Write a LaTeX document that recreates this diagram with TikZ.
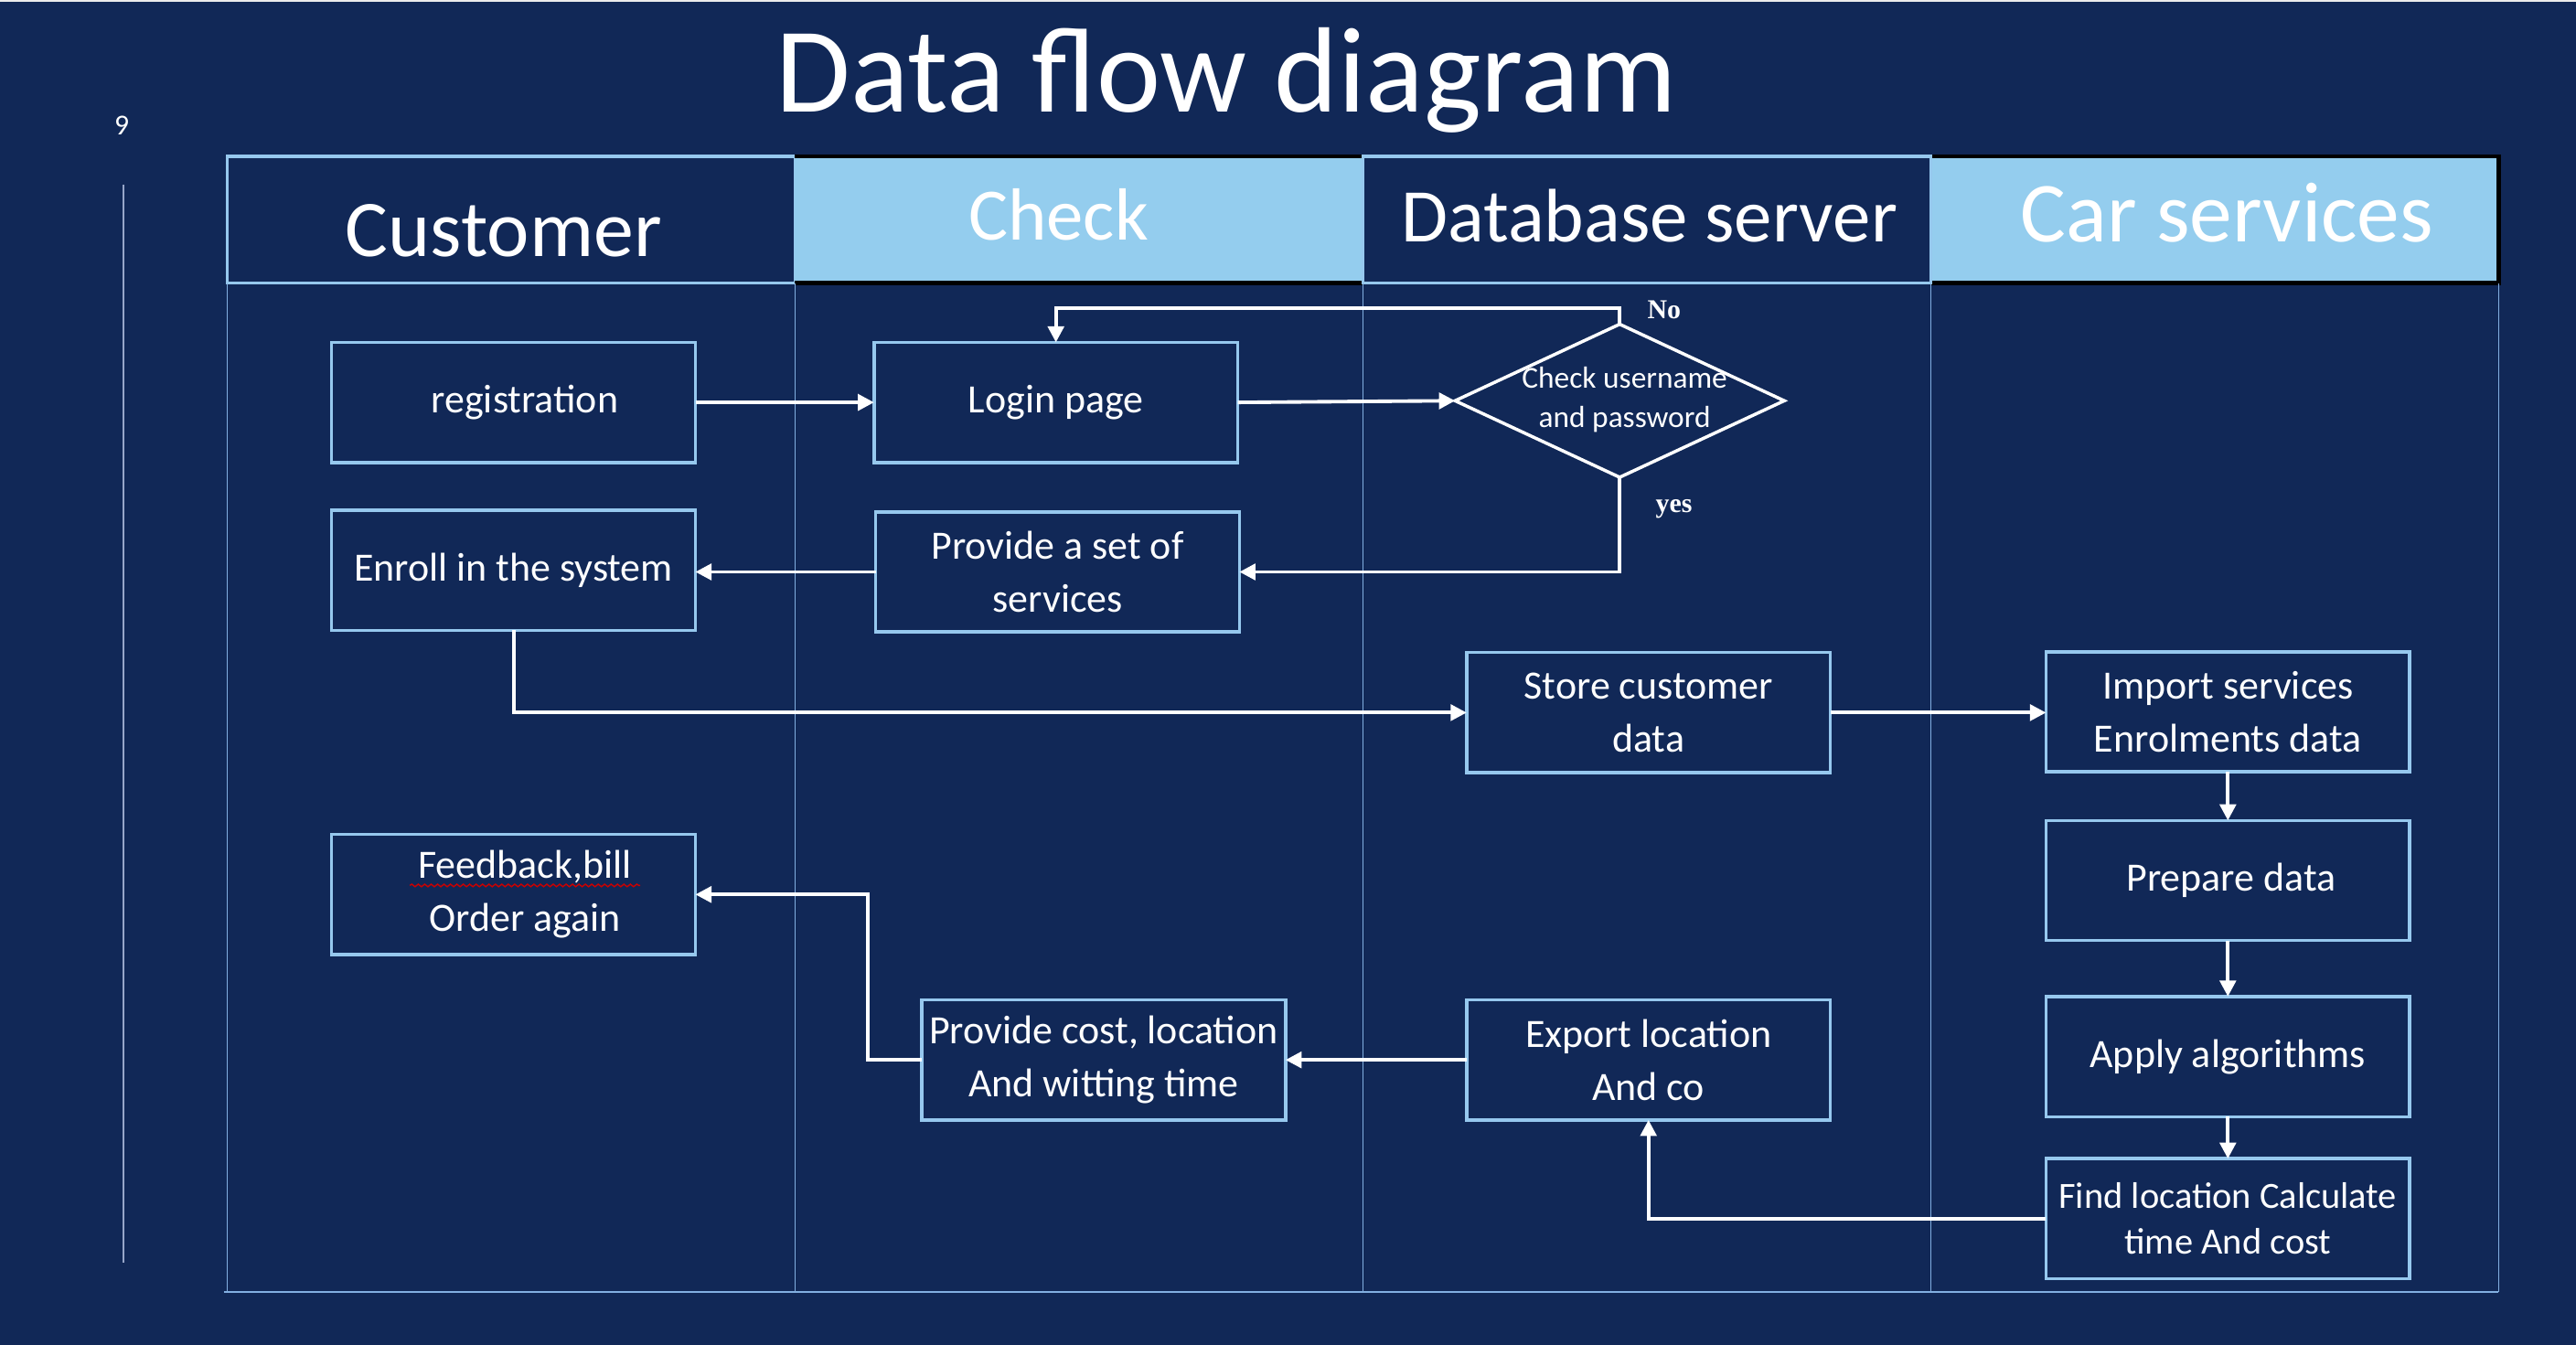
\documentclass[tikz,border=0pt]{standalone}
\usepackage{fontspec}
\setmainfont{Carlito}
\newfontfamily\labfont{Liberation Serif}
\usetikzlibrary{arrows.meta,shapes.geometric,decorations.pathmorphing}
\definecolor{bg}{RGB}{17,40,87}
\definecolor{lblue}{RGB}{148,205,238}
\definecolor{bblue}{RGB}{150,200,238}
\definecolor{lane}{RGB}{130,175,225}
\definecolor{leftline}{RGB}{150,165,200}
\newcommand{\uu}{0.018cm}
\tikzset{
  box/.style={draw=bblue, line width=1pt, text=white, align=center, inner sep=0pt, outer sep=0pt,
    minimum width=221*\uu, minimum height=73*\uu, font=\fontsize{12.5}{16.4}\selectfont},
  arr/.style={draw=white, line width=1.1pt, -{Triangle[length=5pt,width=5pt]}},
  lanel/.style={draw=lane, line width=0.35pt},
  hdr/.style={text=white, anchor=base},
  yn/.style={text=white, font=\labfont\bfseries\fontsize{8.5}{10}\selectfont}
}
\begin{document}
\begin{tikzpicture}[x=\uu,y=-\uu]
\useasboundingbox (0,0) rectangle (1565,817);
\fill[bg] (0,0) rectangle (1565,817);
\fill[white!85!gray] (0,0) rectangle (1565,1.3);
% left rule and page number
\draw[leftline, line width=0.4pt] (75,112) -- (75,767);
\node[text=white, font=\fontsize{9}{10}\selectfont] (pnum) at (74,76) {9};
% title
\node[hdr, font=\fontsize{37.8}{40}\selectfont] (title) at (745,68) {Data flow diagram};
% header cells
\filldraw[fill=bg, draw=bblue, line width=1pt] (138,95) rectangle (483,172);
\fill[lblue] (483,95) rectangle (828,172);
\draw[black, line width=1.2pt] (483,95) -- (828,95) (483,172) -- (828,172);
\fill[lblue] (1173,95) rectangle (1518,172);
\draw[black, line width=1.2pt] (1173,95) -- (1518,95) -- (1518,172) -- (1173,172);
\filldraw[fill=bg, draw=bblue, line width=1pt] (828,95) rectangle (1173,172);
\node[hdr, font=\fontsize{25}{28}\selectfont] (hcust) at (306,156) {Customer};
\node[hdr, font=\fontsize{23}{26}\selectfont] (hcheck) at (643,146) {Check};
\node[hdr, font=\fontsize{23.6}{26}\selectfont] (hdb) at (1002,147) {Database server};
\node[hdr, font=\fontsize{26.6}{30}\selectfont] (hcar) at (1353,147) {Car services};
% lanes
\draw[lanel] (138,172) -- (138,785) (483,172) -- (483,785) (828,172) -- (828,785)
  (1173,172) -- (1173,785) (1518,172) -- (1518,785) (136,785) -- (1518,785);
% boxes
\node[box] (reg) at (312,244.5) {\hspace*{7pt}registration};
\node[box] (login) at (641.5,244.5) {\raisebox{-1pt}{Login page}};
\node[diamond, draw=white, line width=1pt, minimum width=200*\uu, minimum height=93*\uu, inner sep=0pt, outer sep=0pt] (chk) at (984,243.5) {};
\node[text=white, align=center, font=\fontsize{9.5}{12.3}\selectfont] (chktxt) at (987,243) {Check username\\and password};
\node[box] (enroll) at (312,346.5) {Enroll in the system};
\node[box] (prov) at (642.5,347.5) {Provide a set of\\services};
\node[box] (store) at (1001.5,433) {Store customer\\data};
\node[box] (import) at (1353.5,432.5) {Import services\\Enrolments data};
\node[box] (prep) at (1353.5,535) {\hspace*{2pt}Prepare data};
\node[box] (apply) at (1353.5,642) {Apply algorithms};
\node[box, font=\fontsize{11.5}{14.3}\selectfont] (find) at (1353.5,740.5) {Find location Calculate\\time And cost};
\node[box] (feed) at (312,543.5) {\hspace*{7pt}Feedback,bill\\\hspace*{7pt}Order again};
\node[box] (cost) at (670.5,644) {Provide cost, location\\And witting time};
\node[box] (export) at (1001.5,644) {Export location\\And co};
\draw[red!80!black, line width=0.4pt, decorate, decoration={snake, amplitude=0.4pt, segment length=2pt}] (249,538) -- (389,538);
% labels
\node[yn] (no) at (1011,188) {No};
\node[yn] (yes) at (1017,309) {yes};
% connectors
\draw[arr] (reg.east) -- (login.west);
\draw[arr] (login.east) -- (chk.west);
\draw[arr] (chk.north) -- ++(0,-10) -| (login.north);
\draw[arr] (chk.south) |- (prov.east);
\draw[arr] (prov.west) -- (prov.west -| enroll.east);
\draw[arr] (enroll.south) |- (store.west);
\draw[arr] (store.east) -- (store.east -| import.west);
\draw[arr] (import.south) -- (prep.north);
\draw[arr] (prep.south) -- (apply.north);
\draw[arr] (apply.south) -- (find.north);
\draw[arr] (find.west) -| (export.south);
\draw[arr] (export.west) -- (cost.east);
\draw[arr] (cost.west) -- ++(-33,0) |- (feed.east);
\end{tikzpicture}
\end{document}
